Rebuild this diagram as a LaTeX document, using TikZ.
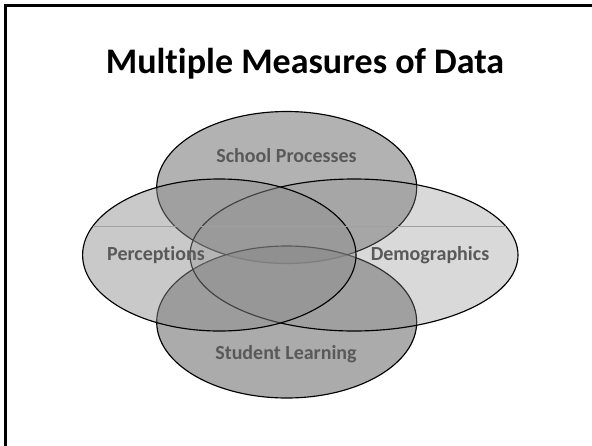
\documentclass[tikz,border=0pt]{standalone}
\usepackage{fontspec}
\setmainfont{Carlito}[Ligatures=NoCommon]
\usetikzlibrary{shapes.geometric}
\definecolor{labelgray}{RGB}{89,89,89}
\definecolor{fillgray}{gray}{0.55}
\definecolor{seamgray}{RGB}{160,160,160}
\begin{document}
\begin{tikzpicture}[x=1pt,y=-1pt,
  venn/.style={ellipse, draw=black, line width=1.15pt, fill=fillgray, inner sep=0pt, outer sep=0pt},
  lbl/.style={font=\fontsize{20}{24}\selectfont\bfseries, text=labelgray, anchor=base, inner sep=0pt},
  ttl/.style={font=\fontsize{36}{43}\selectfont\bfseries, text=black, anchor=base, inner sep=0pt},
  slideframe/.style={line width=2.6pt, draw=black},
  seam/.style={line width=0.5pt, draw=seamgray}]
\useasboundingbox (0,0) rectangle (592,445);
\coordinate (fbl) at (5.3,447);
\coordinate (ftl) at (5.3,5.3);
\coordinate (ftr) at (594,5.3);
\draw[slideframe] (fbl) -- (ftl) -- (ftr);
\node[ttl] (title) at (305,73) {Multiple Measures of Data};
\node[venn, fill opacity=0.667, minimum width=260pt, minimum height=152pt] (sp) at (286.7,187.5) {};
\node[venn, fill opacity=0.733, minimum width=260pt, minimum height=152pt] (sl) at (286.7,322) {};
\node[venn, fill opacity=0.333, minimum width=328pt, minimum height=152pt] (dm) at (354,255) {};
\node[venn, fill opacity=0.467, minimum width=273.4pt, minimum height=152pt] (pc) at (219.3,255) {};
\coordinate (seamL) at (92.9,226);
\coordinate (seamR) at (505.7,226);
\draw[seam] (seamL) -- (seamR);
\node[lbl] (tsp) at (286.5,162) {School Processes};
\node[lbl] (tpc) at (156,260) {Perceptions};
\node[lbl] (tdm) at (430,260) {Demographics};
\node[lbl] (tsl) at (286,359) {Student Learning};
\end{tikzpicture}
\end{document}
